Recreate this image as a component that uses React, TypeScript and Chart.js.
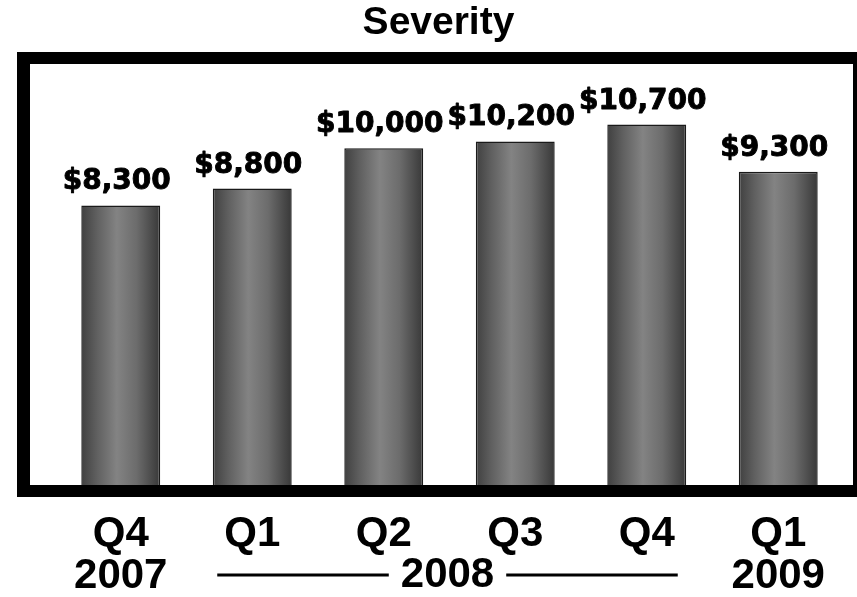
import { useEffect, useRef } from 'react';
import { Chart, registerables } from 'chart.js';

Chart.register(...registerables);

const chartTitle = 'Severity';
const quarters = ['Q4', 'Q1', 'Q2', 'Q3', 'Q4', 'Q1'];
const tickYears = ['2007', '', '', '', '', '2009'];
const spanYear = '2008';
const severity = [8300, 8800, 10000, 10200, 10700, 9300];
const yMax = 12500;

const W = 857;
const H = 597;
const BAR_PCT = 0.6;
const TICK_FONT = 'bold 42px "Liberation Sans", Arial, sans-serif';
const VALUE_FONT = 'bold 28px "DejaVu Sans", sans-serif';

const money = (v: number) => '$' + v.toLocaleString('en-US');

// Thick black frame around the plot, bars rest on its bottom edge
const framePlugin = {
  id: 'frame',
  afterDatasetsDraw(chart: any) {
    const { ctx, chartArea } = chart;
    const t = 12;
    ctx.save();
    ctx.fillStyle = '#000';
    const top = chartArea.top - t;
    const bottom = chartArea.bottom + t;
    ctx.fillRect(17, top, W - 17, t);
    ctx.fillRect(17, chartArea.bottom, W - 17, t);
    ctx.fillRect(17, top, 13, bottom - top);
    ctx.fillRect(853, top, 4, bottom - top);
    ctx.restore();
  },
};

// Dollar value above each bar
const valueLabels = {
  id: 'valueLabels',
  afterDatasetsDraw(chart: any) {
    const { ctx } = chart;
    const meta = chart.getDatasetMeta(0);
    const data = chart.data.datasets[0].data as number[];
    ctx.save();
    ctx.font = VALUE_FONT;
    ctx.fillStyle = '#000';
    ctx.strokeStyle = '#000';
    ctx.lineWidth = 0.9;
    ctx.lineJoin = 'round';
    ctx.textAlign = 'center';
    ctx.textBaseline = 'alphabetic';
    meta.data.forEach((bar: any, i: number) => {
      const s = money(data[i]);
      ctx.fillText(s, bar.x - 4, bar.y - 16);
      ctx.strokeText(s, bar.x - 4, bar.y - 16);
    });
    ctx.restore();
  },
};

// Title above the frame
const titlePlugin = {
  id: 'severityTitle',
  afterDraw(chart: any) {
    const { ctx } = chart;
    ctx.save();
    ctx.font = 'bold 39px "Liberation Sans", Arial, sans-serif';
    ctx.fillStyle = '#000';
    ctx.textAlign = 'center';
    ctx.textBaseline = 'alphabetic';
    ctx.fillText(chartTitle, 438.5, 34);
    ctx.restore();
  },
};

// "2008" spanning Q1..Q4 with rules on either side
const yearSpan = {
  id: 'yearSpan',
  afterDraw(chart: any) {
    const { ctx, chartArea } = chart;
    const xs = chart.scales.x;
    const first = xs.getPixelForValue(1);
    const last = xs.getPixelForValue(4);
    const mid = (xs.getPixelForValue(2) + xs.getPixelForValue(3)) / 2 - 2;
    const y = chartArea.bottom + 27 + 42 + 21;
    ctx.save();
    ctx.font = TICK_FONT;
    ctx.fillStyle = '#000';
    ctx.textAlign = 'center';
    ctx.textBaseline = 'middle';
    ctx.fillText(spanYear, mid, y);
    const half = ctx.measureText(spanYear).width / 2;
    ctx.strokeStyle = '#000';
    ctx.lineWidth = 3;
    const ly = chartArea.bottom + 90;
    ctx.beginPath();
    ctx.moveTo(first - 35, ly);
    ctx.lineTo(mid - half - 12, ly);
    ctx.moveTo(mid + half + 12, ly);
    ctx.lineTo(last + 31, ly);
    ctx.stroke();
    ctx.restore();
  },
};

// Horizontal shading across each bar: dark edges, lighter middle
const barFill = (c: any) => {
  const xs = c.chart.scales.x;
  if (!xs || c.dataIndex == null) return '#707070';
  const cx = xs.getPixelForValue(c.dataIndex);
  const w = (xs.width / quarters.length) * BAR_PCT;
  if (!Number.isFinite(cx) || !Number.isFinite(w) || w <= 0) return '#707070';
  const g = c.chart.ctx.createLinearGradient(cx - w / 2, 0, cx + w / 2, 0);
  g.addColorStop(0, '#404040');
  g.addColorStop(0.2, '#606060');
  g.addColorStop(0.45, '#838383');
  g.addColorStop(0.7, '#6c6c6c');
  g.addColorStop(1, '#383838');
  return g;
};

export default function App() {
  const ref = useRef<HTMLCanvasElement>(null);

  useEffect(() => {
    if (!ref.current) return;
    const labels = quarters.map((q, i) => (tickYears[i] ? [q, tickYears[i]] : [q]));
    const chart = new Chart(ref.current, {
      type: 'bar',
      data: {
        labels,
        datasets: [
          {
            data: severity,
            barPercentage: BAR_PCT,
            categoryPercentage: 1,
            borderColor: '#1a1a1a',
            borderWidth: 1.5,
            backgroundColor: barFill,
          },
        ],
      },
      options: {
        responsive: false,
        animation: false,
        layout: { padding: { left: 55, right: 13, top: 64, bottom: 0 } },
        plugins: {
          legend: { display: false },
          title: { display: false },
          tooltip: { enabled: false },
        },
        scales: {
          x: {
            grid: { display: false, drawTicks: false },
            border: { display: false },
            ticks: {
              color: '#000',
              font: { family: '"Liberation Sans", Arial, sans-serif', weight: 'bold', size: 42, lineHeight: 1 },
              padding: 28,
              maxRotation: 0,
              autoSkip: false,
            },
            afterFit: (scale: any) => {
              scale.height = 112;
            },
          },
          y: {
            display: false,
            min: 0,
            max: yMax,
            grid: { display: false },
          },
        },
      },
      plugins: [framePlugin, valueLabels, titlePlugin, yearSpan],
    });
    return () => chart.destroy();
  }, []);

  return (
    <div style={{ position: 'absolute', left: 0, top: 0, width: W, height: H, background: '#fff' }}>
      <canvas ref={ref} width={W} height={H} />
    </div>
  );
}
